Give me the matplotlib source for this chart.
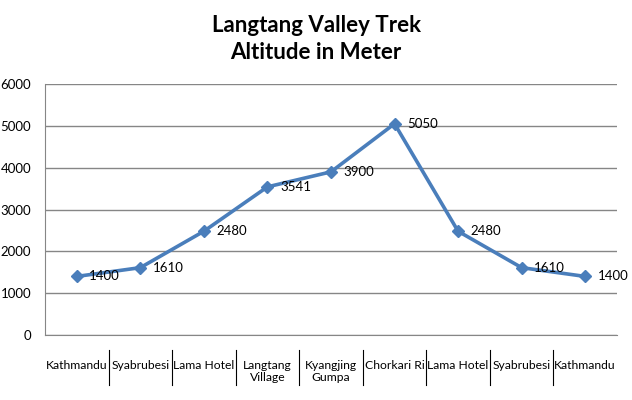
import matplotlib.pyplot as plt

# Data
stops = ['Kathmandu', 'Syabrubesi', 'Lama Hotel', 'Langtang\nVillage', 'Kyangjing\nGumpa',
         'Chorkari Ri', 'Lama Hotel', 'Syabrubesi', 'Kathmandu']
altitude = [1400, 1610, 2480, 3541, 3900, 5050, 2480, 1610, 1400]
yticks = [0, 1000, 2000, 3000, 4000, 5000, 6000]

LINE = '#4A7EBB'
GRID = '#868686'

plt.rcParams['font.family'] = ['Lato', 'DejaVu Sans']

fig = plt.figure(figsize=(6.32, 4.0), dpi=100)
ax = fig.add_axes([0.0712, 0.1625, 0.905, 0.6275])

x = list(range(len(stops)))
ax.plot(x, altitude, color=LINE, linewidth=2.6, marker='D', markersize=6.5, zorder=5)

for xi, v in zip(x, altitude):
    ax.annotate(f'{v}', xy=(xi, v), xytext=(9, 0), textcoords='offset points',
                fontsize=9.5, ha='left', va='center', color='black', zorder=6)

ax.set_xlim(-0.5, len(stops) - 0.5)
ax.set_ylim(0, 6000)
ax.set_yticks(yticks)
ax.set_yticklabels([str(t) for t in yticks], fontsize=9.5)
ax.set_xticks(x)
ax.set_xticklabels(stops, fontsize=8.7, linespacing=1.1)
ax.tick_params(axis='x', length=0, pad=18)
ax.tick_params(axis='y', length=0, pad=10)

ax.grid(axis='y', color=GRID, linewidth=1)
ax.set_axisbelow(True)
for s in ['top', 'right']:
    ax.spines[s].set_visible(False)
ax.spines['left'].set_color(GRID)
ax.spines['bottom'].set_color(GRID)

# category separators below the axis
for b in range(1, len(stops)):
    ax.plot([b - 0.5, b - 0.5], [-0.06, -0.2], transform=ax.get_xaxis_transform(),
            color='black', linewidth=0.8, clip_on=False)

fig.text(0.5, 0.9025, 'Langtang Valley Trek\nAltitude in Meter', ha='center', va='center',
         fontsize=16, fontweight='bold', linespacing=1.3)

fig.savefig('out.png', dpi=100, facecolor='white')
